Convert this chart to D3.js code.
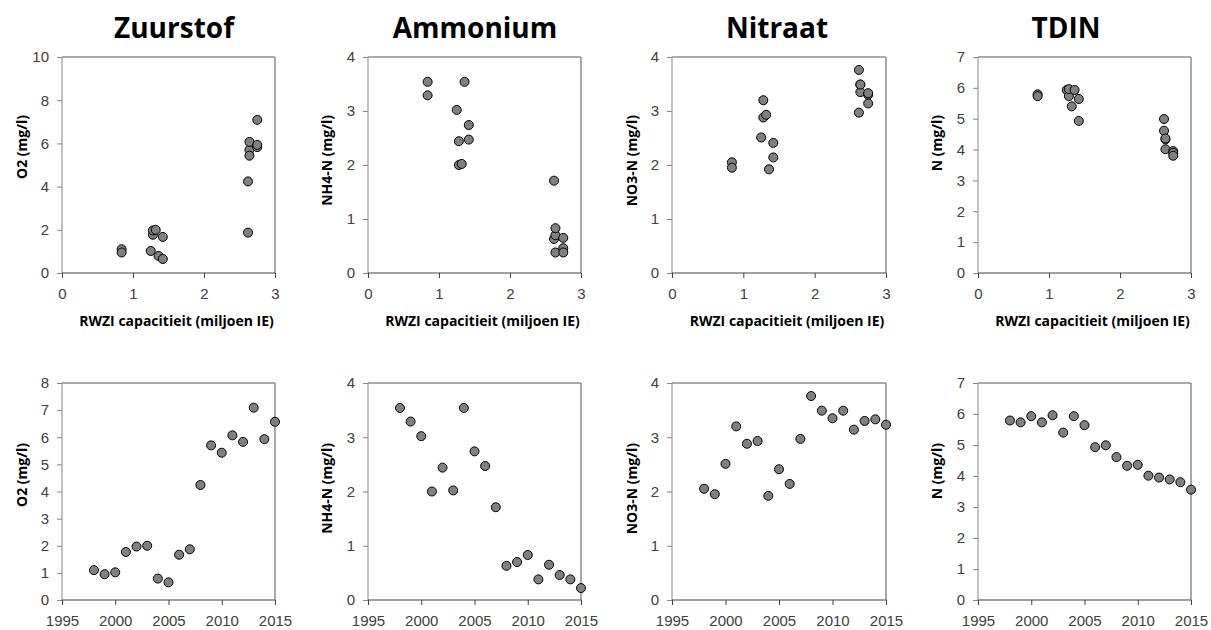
<!DOCTYPE html>
<html>
<head>
<meta charset="utf-8">
<script src="https://cdn.jsdelivr.net/npm/d3@7"></script>
<style>
  body { margin: 0; background: #fff; }
  svg { display: block; font-family: "Open Sans", sans-serif; }
  .tick text { fill: #404040; font-size: 15px; }
  .title { font-weight: bold; font-size: 28px; fill: #000; }
  .alabel { font-weight: bold; font-size: 14px; fill: #000; }
</style>
</head>
<body>
<div id="chart"></div>
<script>
// years and the measured yearly means
var years = [1998, 1999, 2000, 2001, 2002, 2003, 2004, 2005, 2006, 2007, 2008, 2009, 2010, 2011, 2012, 2013, 2014, 2015];
var o2  = [1.10, 0.95, 1.02, 1.77, 1.97, 2.00, 0.79, 0.65, 1.67, 1.87, 4.24, 5.70, 5.43, 6.07, 5.83, 7.09, 5.93, 6.57];
var nh4 = [3.54, 3.29, 3.02, 2.00, 2.44, 2.02, 3.54, 2.74, 2.47, 1.71, 0.63, 0.70, 0.83, 0.38, 0.65, 0.46, 0.38, 0.22];
var no3 = [2.05, 1.95, 2.51, 3.20, 2.88, 2.93, 1.92, 2.41, 2.14, 2.97, 3.76, 3.49, 3.35, 3.49, 3.14, 3.30, 3.33, 3.23];
var tdin = [5.79, 5.73, 5.93, 5.73, 5.96, 5.40, 5.93, 5.64, 4.93, 4.99, 4.61, 4.33, 4.36, 4.01, 3.95, 3.89, 3.80, 3.56];
// RWZI capacity (miljoen IE) per year, 1998-2014 (none for 2015)
var capacity = [0.84, 0.84, 1.25, 1.28, 1.28, 1.32, 1.36, 1.42, 1.42, 2.62, 2.62, 2.64, 2.64, 2.64, 2.75, 2.75, 2.75];

var titles = ["Zuurstof", "Ammonium", "Nitraat", "TDIN"];
var yLabels = ["O2 (mg/l)", "NH4-N (mg/l)", "NO3-N (mg/l)", "N (mg/l)"];
var series = [o2, nh4, no3, tdin];
var yMaxTop = [10, 4, 4, 7];
var yStepTop = [2, 1, 1, 1];
var yMaxBottom = [8, 4, 4, 7];
var capTicks = [0, 1, 2, 3];
var yearTicks = [1995, 2000, 2005, 2010, 2015];

var width = 1211, height = 630;
var lefts = [62, 368, 672, 978];
var rights = [275, 581, 886, 1191];
var titleX = [174, 475, 777, 1066];
var yLabelX = [22, 327, 632, 937];

var svg = d3.select("#chart").append("svg")
    .attr("width", width)
    .attr("height", height);

function panel(i, xDomain, xTickVals, xs, ys, yMax, yStep, top, bottom, xTitle, labelTop) {
    var x = d3.scaleLinear().domain(xDomain).range([lefts[i], rights[i]]);
    var y = d3.scaleLinear().domain([0, yMax]).range([bottom, top]);
    var g = svg.append("g");

    // frame (top and right)
    g.append("line").attr("x1", lefts[i]).attr("x2", rights[i]).attr("y1", top).attr("y2", top)
        .attr("stroke", "#595959").attr("stroke-width", 1);
    g.append("line").attr("x1", rights[i]).attr("x2", rights[i]).attr("y1", top).attr("y2", bottom)
        .attr("stroke", "#8c8c8c").attr("stroke-width", 1.5);

    var yAxis = g.append("g")
        .attr("transform", "translate(" + lefts[i] + ",0)")
        .call(d3.axisLeft(y).tickValues(d3.range(0, yMax + 0.001, yStep)).tickSize(5).tickPadding(8).tickFormat(d3.format("d")));
    yAxis.select(".domain").attr("stroke", "#868686").attr("d", "M0," + bottom + "V" + top);
    yAxis.selectAll(".tick line").attr("stroke", "#868686");

    var xAxis = g.append("g")
        .attr("transform", "translate(0," + bottom + ")")
        .call(d3.axisBottom(x).tickValues(xTickVals).tickSize(5).tickPadding(10).tickFormat(d3.format("d")));
    xAxis.select(".domain").attr("stroke", "#404040").attr("d", "M" + lefts[i] + ",0H" + rights[i]);
    xAxis.selectAll(".tick line").attr("stroke", "#404040");

    var pts = xs.map(function (d, k) { return [d, ys[k]]; });
    g.append("g").selectAll("circle")
        .data(pts)
        .enter().append("circle")
        .attr("cx", function (d) { return x(d[0]); })
        .attr("cy", function (d) { return y(d[1]); })
        .attr("r", 4.5)
        .attr("fill", "#808080")
        .attr("stroke", "#000")
        .attr("stroke-width", 1);

    g.append("text")
        .attr("class", "alabel")
        .attr("transform", "translate(" + yLabelX[i] + "," + labelTop + ") rotate(-90)")
        .attr("text-anchor", "end")
        .attr("dy", "0.35em")
        .text(yLabels[i]);

    if (xTitle) {
        g.append("text")
            .attr("class", "alabel")
            .attr("x", (lefts[i] + rights[i]) / 2 + 8)
            .attr("y", 326)
            .attr("text-anchor", "middle")
            .text(xTitle);
    }
}

for (var i = 0; i < 4; i++) {
    svg.append("text")
        .attr("class", "title")
        .attr("x", titleX[i])
        .attr("y", 38)
        .attr("text-anchor", "middle")
        .text(titles[i]);

    // top row: against RWZI capacity (2015 has no capacity value)
    panel(i, [0, 3], capTicks, capacity, series[i].slice(0, capacity.length),
        yMaxTop[i], yStepTop[i], 57, 273, "RWZI capacitieit (miljoen IE)", 115);

    // bottom row: against year
    panel(i, [1995, 2015], yearTicks, years, series[i],
        yMaxBottom[i], 1, 383, 600, null, 443);
}
</script>
</body>
</html>
